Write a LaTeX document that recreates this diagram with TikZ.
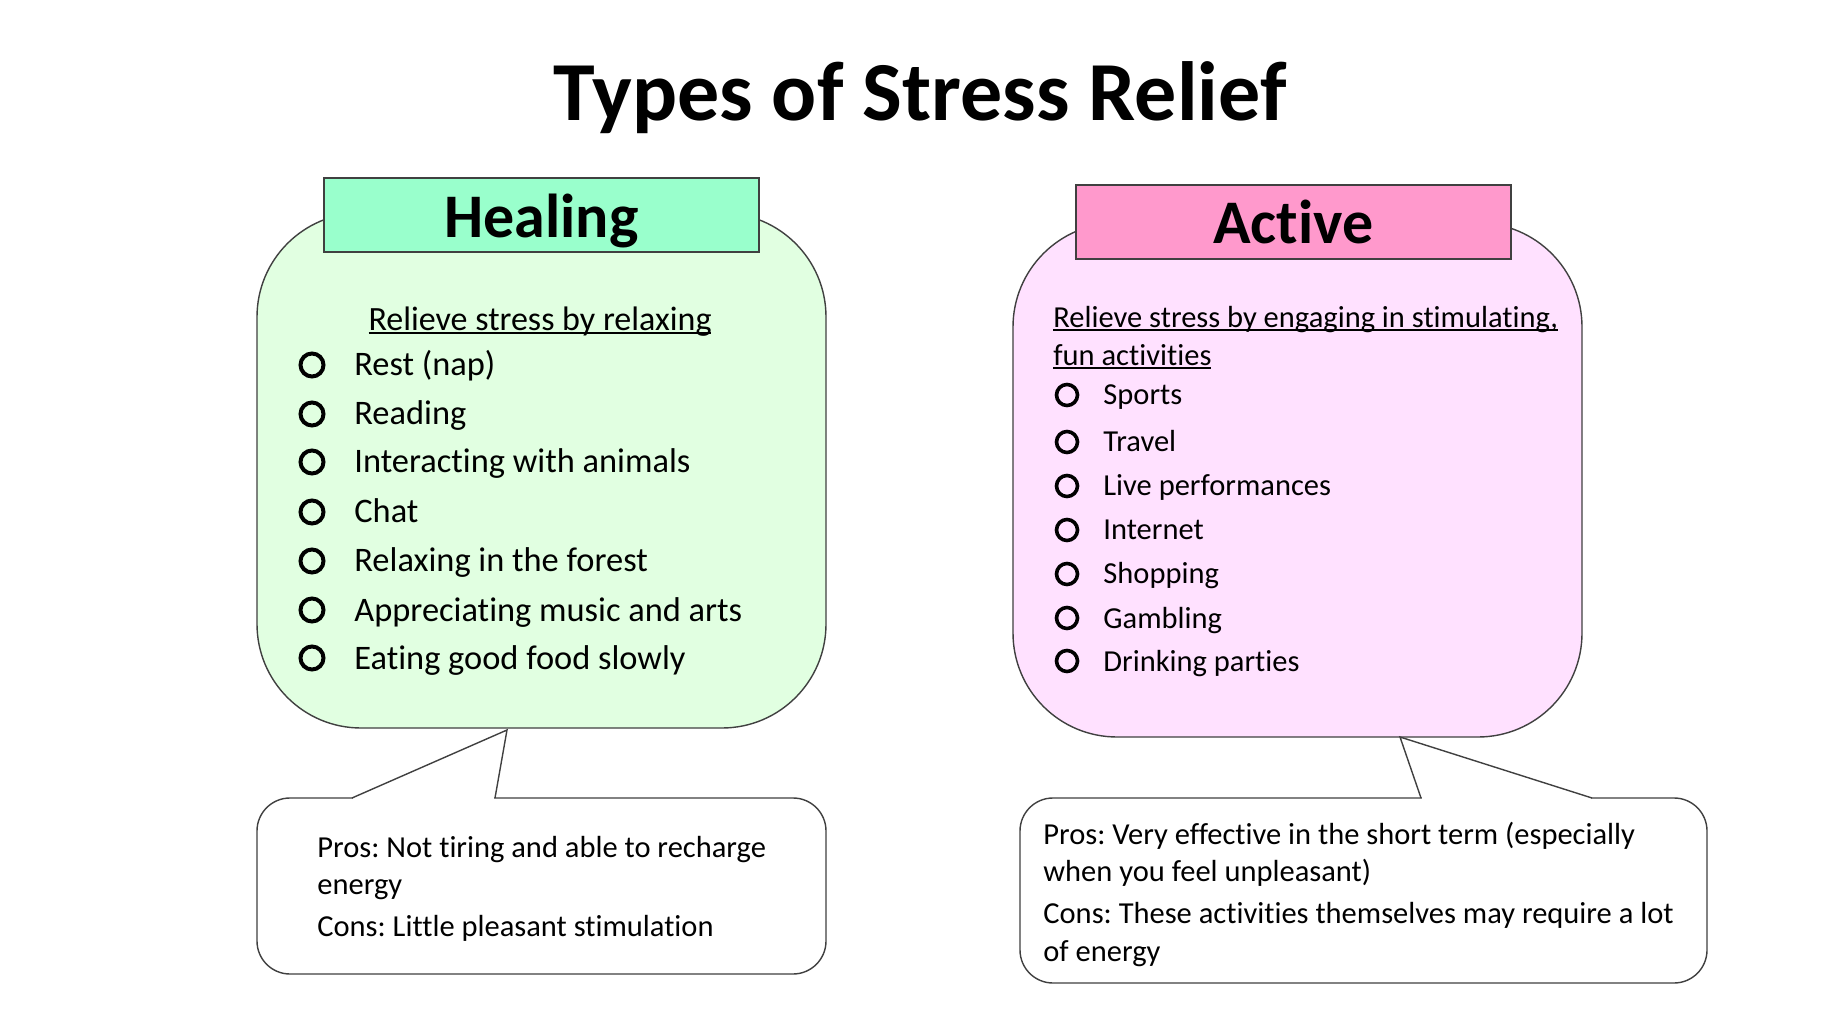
\documentclass[tikz,border=0pt]{standalone}
\usepackage{fontspec}
\setmainfont{Carlito}[Ligatures=CommonOff]
\frenchspacing
\newcommand\myul[1]{\setbox0=\hbox{#1}\rlap{\rule[-0.1em]{\wd0}{0.06em}}\box0}
\definecolor{healhead}{HTML}{99FFCC}
\definecolor{healfill}{HTML}{E1FFE1}
\definecolor{acthead}{HTML}{FF99CC}
\definecolor{actfill}{HTML}{FFE1FF}
\definecolor{edge}{HTML}{404040}
\begin{document}
\begin{tikzpicture}[x=0.5pt,y=-0.5pt,
  panel/.style={draw=edge, line width=0.7pt, rounded corners=52pt},
  headbox/.style={draw=edge, line width=0.7pt},
  callout/.style={draw=edge, line width=0.7pt, fill=white, rounded corners=16.5pt},
  pointer/.style={draw=edge, line width=0.7pt},
  headtxt/.style={anchor=base, inner sep=0pt, font=\bfseries\fontsize{31}{36}\selectfont},
  htxt/.style={anchor=base west, inner sep=0pt, font=\fontsize{17.2}{20}\selectfont},
  atxt/.style={anchor=base west, inner sep=0pt, font=\fontsize{15.25}{18}\selectfont},
  hbul/.style={draw=black, line width=2pt, circle, minimum size=11.5pt, inner sep=0pt},
  abul/.style={draw=black, line width=1.8pt, circle, minimum size=10.5pt, inner sep=0pt}
]
\useasboundingbox[fill=white] (0,0) rectangle (1840,1036);

% title
\node[anchor=base, inner sep=0pt, font=\bfseries\fontsize{42}{50}\selectfont] (title) at (920,121) {Types of Stress Relief};

% ---------- Healing panel ----------
\draw[panel, fill=healfill] (257,213) rectangle (826,728);
\node[headbox, fill=healhead, minimum width=217.5pt, minimum height=37pt, inner sep=0pt] (hhead) at (541.5,215) {};
\node[headtxt] (hlabel) at (541.5,238) {Healing};

\node[anchor=base, inner sep=0pt, font=\fontsize{17}{20}\selectfont] (hrel) at (540,331) {\myul{Relieve stress by relaxing}};

\foreach \i/\yb/\t in {1/365/Rest (nap), 2/414/Reading, 3/462/Interacting with animals, 4/512/Chat, 5/561/Relaxing in the forest, 6/610/Appreciating music and arts, 7/658/Eating good food slowly}{
  \node[hbul] (hb\i) at (312,\yb) {};
  \node[htxt] (ht\i) at (354,\yb+11) {\t};
}

% Healing callout
\coordinate (htip) at (507,730);
\coordinate (hpl) at (352,798);
\coordinate (hpr) at (495,798);
\draw[callout] (257,798) rectangle (826,974);
\fill[white] (353,796) rectangle (494,800);
\draw[pointer] (hpl) -- (htip) -- (hpr);
\node[atxt] (hc1) at (317,857) {Pros: Not tiring and able to recharge};
\node[atxt] (hc2) at (317,894) {energy};
\node[atxt] (hc3) at (317,936) {Cons: Little pleasant stimulation};

% ---------- Active panel ----------
\draw[panel, fill=actfill] (1013,223) rectangle (1582,737);
\node[headbox, fill=acthead, minimum width=217.5pt, minimum height=37pt, inner sep=0pt] (ahead) at (1293.5,222) {};
\node[headtxt] (alabel) at (1293.5,244) {Active};

\node[atxt] (arel1) at (1053,328) {\myul{Relieve stress by engaging in stimulating,}};
\node[atxt] (arel2) at (1053,366) {\myul{fun activities}};

\foreach \i/\yb/\t in {1/395/Sports, 2/442/Travel, 3/486/Live performances, 4/530/Internet, 5/574/Shopping, 6/618/Gambling, 7/661/Drinking parties}{
  \node[abul] (ab\i) at (1067,\yb) {};
  \node[atxt] (at\i) at (1103,\yb+10) {\t};
}

% Active callout
\coordinate (atip) at (1400,737);
\coordinate (apl) at (1421,798);
\coordinate (apr) at (1592,798);
\draw[callout] (1020,798) rectangle (1707,983);
\fill[white] (1422,796) rectangle (1591,800);
\draw[pointer] (apl) -- (atip) -- (apr);
\node[atxt] (ac1) at (1043,844) {Pros: Very effective in the short term (especially};
\node[atxt] (ac2) at (1043,881) {when you feel unpleasant)};
\node[atxt] (ac3) at (1043,923) {Cons: These activities themselves may require a lot};
\node[atxt] (ac4) at (1043,961) {of energy};
\end{tikzpicture}
\end{document}
